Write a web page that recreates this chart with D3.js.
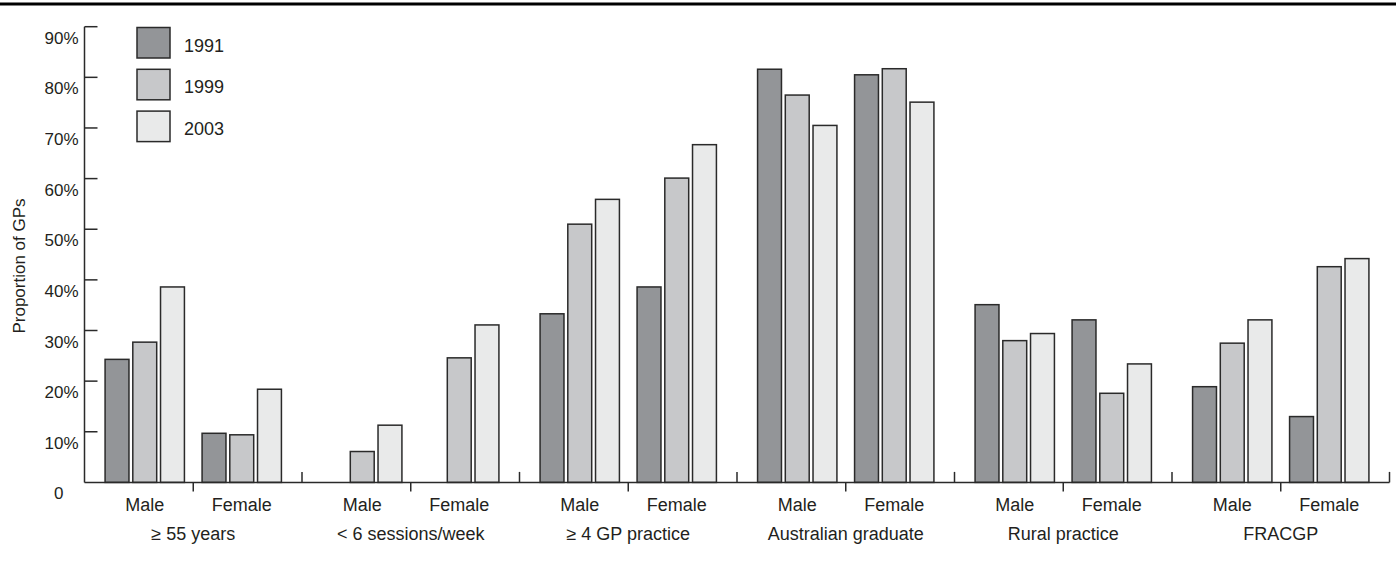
<!DOCTYPE html>
<html>
<head>
<meta charset="utf-8">
<script src="https://cdn.jsdelivr.net/npm/d3@7"></script>
<style>
  html, body { margin: 0; padding: 0; background: #fff; }
  svg { display: block; font-family: "Liberation Sans", Arial, Helvetica, sans-serif; }
</style>
</head>
<body>
<svg id="chart" width="1396" height="566"></svg>
<script>
// ---- data ----
const categories = ["\u2265 55 years", "< 6 sessions/week", "\u2265 4 GP practice", "Australian graduate", "Rural practice", "FRACGP"];
const sexes = ["Male", "Female"];
const years = ["1991", "1999", "2003"];
// values in % ; null = no bar
const values1991 = [
  [24.3, 9.7], [null, null], [33.3, 38.6], [81.6, 80.5], [35.1, 32.1], [18.9, 13.0]
];
const values1999 = [
  [27.7, 9.4], [6.1, 24.6], [51.0, 60.1], [76.5, 81.7], [28.0, 17.6], [27.5, 42.6]
];
const values2003 = [
  [38.6, 18.4], [11.3, 31.1], [55.9, 66.7], [70.5, 75.1], [29.4, 23.4], [32.1, 44.2]
];
const yTicks = [0, 10, 20, 30, 40, 50, 60, 70, 80, 90];
const yTickLabels = ["0", "10%", "20%", "30%", "40%", "50%", "60%", "70%", "80%", "90%"];
const yTitle = "Proportion of GPs";

const fills = {"1991": "#939598", "1999": "#c7c8ca", "2003": "#e9eaea"};
const seriesByYear = {"1991": values1991, "1999": values1999, "2003": values2003};

const svg = d3.select("#chart");
const ink = "#2a2a2a";
const textCol = "#231f20";

// top rule
svg.append("rect").attr("x", 0).attr("y", 2.5).attr("width", 1396).attr("height", 3).attr("fill", "#000");

const x0 = 84.5, x1 = 1389.5;
const y = d3.scaleLinear().domain([0, 90]).range([482.4, 26.7]);
const xCat = d3.scaleBand().domain(categories).range([x0, x1]).padding(0);
const catW = xCat.bandwidth();
const subInset = (catW - 2 * 97) / 2;
const xSex = d3.scaleBand().domain(sexes).range([subInset, catW - subInset]).padding(0);
const xYear = d3.scaleBand().domain(years).range([(xSex.bandwidth() - 87) / 2, (xSex.bandwidth() + 87) / 2]).padding(0.138);

// flatten
const bars = [];
categories.forEach((c, ci) => {
  sexes.forEach((s, si) => {
    years.forEach(yr => {
      const v = seriesByYear[yr][ci][si];
      if (v != null) bars.push({c, s, yr, v});
    });
  });
});

svg.append("g").selectAll("rect").data(bars).join("rect")
  .attr("x", d => xCat(d.c) + xSex(d.s) + xYear(d.yr))
  .attr("width", xYear.bandwidth())
  .attr("y", d => y(d.v))
  .attr("height", d => y(0) - y(d.v))
  .attr("fill", d => fills[d.yr])
  .attr("stroke", ink)
  .attr("stroke-width", 1.5);

// y axis
const yAxis = svg.append("g");
yAxis.append("line").attr("x1", x0).attr("x2", x0).attr("y1", y(90)).attr("y2", y(0))
  .attr("stroke", ink).attr("stroke-width", 1.5);
yAxis.selectAll("line.tick").data(yTicks.filter(t => t > 0)).join("line")
  .attr("class", "tick")
  .attr("x1", x0).attr("x2", x0 + 13)
  .attr("y1", d => y(d)).attr("y2", d => y(d))
  .attr("stroke", ink).attr("stroke-width", 1.5);
yAxis.selectAll("text").data(yTicks).join("text")
  .attr("x", (d, i) => yTickLabels[i].endsWith("%") ? x0 - 6 : x0 - 21)
  .attr("y", d => y(d) + 17)
  .attr("text-anchor", "end")
  .attr("font-size", 17)
  .attr("fill", textCol)
  .text((d, i) => yTickLabels[i]);

svg.append("text")
  .attr("transform", `translate(25, 266) rotate(-90)`)
  .attr("text-anchor", "middle")
  .attr("font-size", 17)
  .attr("fill", textCol)
  .text(yTitle);

// x axis
const xAxis = svg.append("g");
xAxis.append("line").attr("x1", x0).attr("x2", x1).attr("y1", y(0)).attr("y2", y(0))
  .attr("stroke", ink).attr("stroke-width", 1.5);
// category boundary ticks (up)
xAxis.selectAll("line.up").data(categories.slice(1).map(c => xCat(c)).concat([x1])).join("line")
  .attr("class", "up")
  .attr("x1", d => d).attr("x2", d => d)
  .attr("y1", y(0) - 10.5).attr("y2", y(0))
  .attr("stroke", ink).attr("stroke-width", 1.5);
// sex boundary ticks (down)
xAxis.selectAll("line.down").data(categories).join("line")
  .attr("class", "down")
  .attr("x1", d => xCat(d) + catW / 2).attr("x2", d => xCat(d) + catW / 2)
  .attr("y1", y(0)).attr("y2", y(0) + 9)
  .attr("stroke", ink).attr("stroke-width", 1.5);

const sexLabels = [];
categories.forEach(c => sexes.forEach(s => sexLabels.push({c, s})));
xAxis.selectAll("text.sex").data(sexLabels).join("text")
  .attr("class", "sex")
  .attr("x", d => xCat(d.c) + xSex(d.s) + xSex.bandwidth() / 2)
  .attr("y", 510.5)
  .attr("text-anchor", "middle")
  .attr("font-size", 18)
  .attr("fill", textCol)
  .text(d => d.s);
xAxis.selectAll("text.cat").data(categories).join("text")
  .attr("class", "cat")
  .attr("x", d => xCat(d) + catW / 2)
  .attr("y", 539.5)
  .attr("text-anchor", "middle")
  .attr("font-size", 18)
  .attr("fill", textCol)
  .text(d => d);

// legend
const leg = svg.append("g").attr("transform", "translate(137, 27.5)");
const legItems = leg.selectAll("g").data(years).join("g")
  .attr("transform", (d, i) => `translate(0, ${i * 41.8})`);
legItems.append("rect").attr("width", 33).attr("height", 30.5)
  .attr("fill", d => fills[d]).attr("stroke", ink).attr("stroke-width", 1.5);
legItems.append("text").attr("x", 47).attr("y", 15.5 + 2 + 6.5)
  .attr("font-size", 18).attr("fill", textCol).text(d => d);
</script>
</body>
</html>
